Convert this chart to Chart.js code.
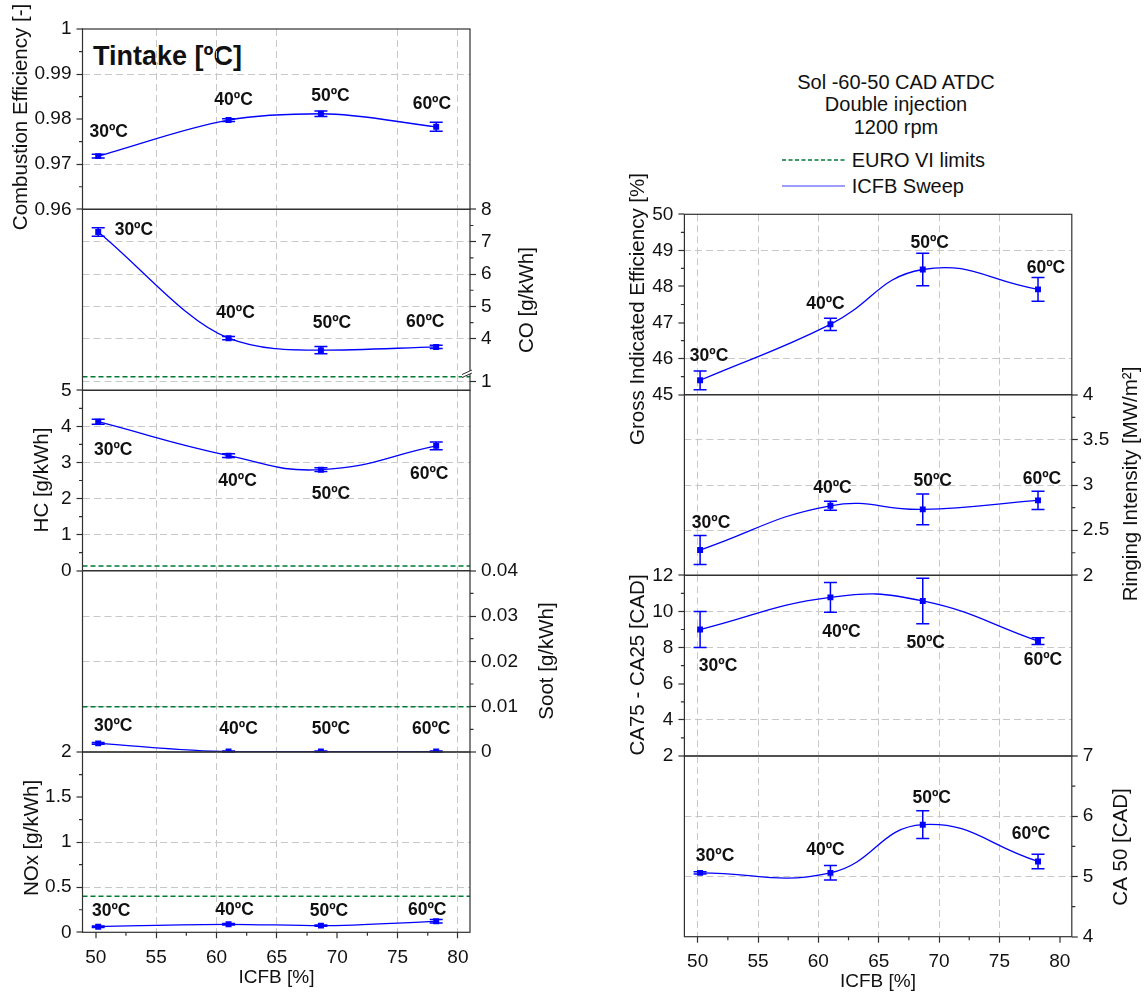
<!DOCTYPE html>
<html>
<head>
<meta charset="utf-8">
<script src="https://cdn.jsdelivr.net/npm/chart.js@4.4.1/dist/chart.umd.min.js"></script>
<style>
  html, body { margin: 0; padding: 0; background: #fff; }
  #page { position: relative; width: 1148px; height: 992px; overflow: hidden; background: #fff;
          font-family: 'Liberation Sans', Arial, Helvetica, sans-serif; color: #111; }
  #page canvas { position: absolute; left: 0; top: 0; }
  .txt { position: absolute; white-space: nowrap; }
</style>
</head>
<body>
<div id="page">
  <div class="txt" id="tintake" style="left:93px; top:42.9px; font-size:27px; line-height:27px; font-weight:bold;">Tintake [ºC]</div>
  <div class="txt" id="cond" style="left:746px; width:300px; top:70.7px; font-size:20px; line-height:22.5px; text-align:center;">Sol -60-50 CAD ATDC<br>Double injection<br>1200 rpm</div>
  <div class="txt" style="left:851.7px; top:149px; font-size:20px; line-height:22.5px;">EURO VI limits</div>
  <div class="txt" style="left:851.7px; top:175px; font-size:20px; line-height:22.5px;">ICFB Sweep</div>
</div>
<script>
// ---------------- data ----------------
const icfb = [50.2, 61.0, 68.65, 78.2];
const tempLabels = ['30ºC', '40ºC', '50ºC', '60ºC'];

const combEff    = [0.9718, 0.9798, 0.9812, 0.9783];
const combEffErr = [0.0004, 0.0003, 0.0006, 0.0010];
const co         = [7.30, 4.02, 3.65, 3.75];
const coErr      = [0.13, 0.05, 0.11, 0.05];
const hc         = [4.13, 3.19, 2.80, 3.46];
const hcErr      = [0.07, 0.05, 0.05, 0.11];
const soot       = [0.0019, 0.0001, 0.0001, 0.0001];
const sootErr    = [0.0002, 0.0001, 0.0001, 0.0001];
const nox        = [0.062, 0.089, 0.074, 0.122];
const noxErr     = [0.008, 0.008, 0.008, 0.02];

const gie        = [45.40, 46.95, 48.47, 47.92];
const gieErr     = [0.26, 0.17, 0.45, 0.33];
const ringing    = [2.28, 2.77, 2.73, 2.83];
const ringingErr = [0.16, 0.05, 0.17, 0.10];
const ca7525     = [9.00, 10.78, 10.58, 8.36];
const ca7525Err  = [1.00, 0.82, 1.26, 0.19];
const ca50       = [5.06, 5.06, 5.86, 5.25];
const ca50Err    = [0.02, 0.12, 0.23, 0.12];

// EURO VI limits
const coLimit = 1.5;
const hcLimit = 0.13;
const sootLimit = 0.01;
const noxLimit = 0.4;

// ---------------- ticks ----------------
const xTicks      = [50, 55, 60, 65, 70, 75, 80];
const xMinorTicks = [52.5, 57.5, 62.5, 67.5, 72.5, 77.5];
const ceTicks     = [0.96, 0.97, 0.98, 0.99, 1];
const ceMinor     = [0.965, 0.975, 0.985, 0.995];
const coTicks     = [4, 5, 6, 7, 8];
const coLowTicks  = [1];
const coMinor     = [4.5, 5.5, 6.5, 7.5];
const hcTicks     = [0, 1, 2, 3, 4, 5];
const hcMinor     = [0.5, 1.5, 2.5, 3.5, 4.5];
const sootTicks   = [0, 0.01, 0.02, 0.03, 0.04];
const sootMinor   = [0.005, 0.015, 0.025, 0.035];
const noxTicks    = [0, 0.5, 1, 1.5, 2];
const noxMinor    = [0.25, 0.75, 1.25, 1.75];
const gieTicks    = [45, 46, 47, 48, 49, 50];
const gieMinor    = [45.5, 46.5, 47.5, 48.5, 49.5];
const riTicks     = [2, 2.5, 3, 3.5, 4];
const riMinor     = [2.25, 2.75, 3.25, 3.75];
const caTicks     = [2, 4, 6, 8, 10, 12];
const caMinor     = [3, 5, 7, 9, 11];
const ca50Ticks   = [4, 5, 6, 7];
const ca50Minor   = [4.5, 5.5, 6.5];

// ---------------- styles / layout ----------------
const PAGE_W = 1148, PAGE_H = 992;
const FONT = "'Liberation Sans', Arial, Helvetica, sans-serif";
const BLUE = '#0000ff';
const GREEN = '#007a33';
const AXIS = '#303030';
const GRIDC = '#c8c8c8';
const TXT = '#111111';
const CAP = 6.5;
const TICK_FONT = 19;
const TITLE_FONT = 20.5;
const LABEL_FONT = 17.5;
const X_MIN = 48.9, X_MAX = 81;
const LEFT_COL  = { l: 82.5, r: 470 };
const RIGHT_COL = { l: 684.4, r: 1071.8 };
const xGridLeft  = [55, 60, 65, 75, 80];
const xGridRight = [50, 55, 60, 65, 70, 75];

// CO broken axis: upper part on main axis, lower part (limit + "1") on a hidden axis
const CO_MAIN = [2.41, 8];
const CO_LOW = [0.14, 18.24];
const coLowOnMain = v => CO_MAIN[0] + (v - CO_LOW[0]) / (CO_LOW[1] - CO_LOW[0]) * (CO_MAIN[1] - CO_MAIN[0]);

function fmt(v) { return String(parseFloat(Number(v).toFixed(4))); }

const panels = [
  { key: 'ce', col: LEFT_COL, top: 29, bottom: 209.3, side: 'left', min: 0.96, max: 1,
    ticks: ceTicks, minor: ceMinor, grid: [0.97, 0.99], xGrid: xGridLeft, curve: 'monotone',
    values: combEff, errors: combEffErr, title: 'Combustion Efficiency [-]', titleX: 27, titleY: 117,
    offsets: [[10.5, -25.6], [5, -21], [9.6, -19.3], [-4.3, -23.7]] },
  { key: 'co', col: LEFT_COL, top: 209.3, bottom: 390.3, side: 'right', min: CO_MAIN[0], max: CO_MAIN[1],
    ticks: coTicks.concat(coLowTicks.map(coLowOnMain)), minor: coMinor,
    grid: [4, 5, 6, 7].concat(coLowTicks.map(coLowOnMain)), xGrid: xGridLeft, curve: 'monotone',
    values: co, errors: coErr, title: 'CO [g/kWh]', titleX: 532.7, titleY: 300,
    limit: coLimit, limitAxis: 'yLow', breakAt: 2.99,
    tickLabel: v => { const i = coLowTicks.findIndex(t => Math.abs(coLowOnMain(t) - v) < 1e-6); return i >= 0 ? fmt(coLowTicks[i]) : fmt(v); },
    offsets: [[35.7, -3.7], [7, -26], [11, -28], [-11, -26]] },
  { key: 'hc', col: LEFT_COL, top: 390.3, bottom: 570.7, side: 'left', min: 0, max: 5,
    ticks: hcTicks, minor: hcMinor, grid: [1, 2, 3, 4], xGrid: xGridLeft, curve: 'default',
    values: hc, errors: hcErr, title: 'HC [g/kWh]', titleX: 48, titleY: 480, limit: hcLimit,
    offsets: [[15, 27], [9, 24], [10, 23], [-7, 27]] },
  { key: 'soot', col: LEFT_COL, top: 570.7, bottom: 752, side: 'right', min: 0, max: 0.04,
    ticks: sootTicks, minor: sootMinor, grid: [0.01, 0.02, 0.03], xGrid: xGridLeft, curve: 'monotone',
    values: soot, errors: sootErr, title: 'Soot [g/kWh]', titleX: 553, titleY: 661, limit: sootLimit,
    offsets: [[15, -19], [10, -24], [10, -24], [-5, -24]] },
  { key: 'nox', col: LEFT_COL, top: 752, bottom: 932.3, side: 'left', min: 0, max: 2,
    ticks: noxTicks, minor: noxMinor, grid: [0.5, 1], xGrid: xGridLeft, curve: 'monotone',
    values: nox, errors: noxErr, title: 'NOx [g/kWh]', titleX: 37.7, titleY: 838, limit: noxLimit,
    showX: true, xTitleX: 276.5, xTitleY: 983,
    offsets: [[13, -17], [6, -16], [8, -16], [-9, -13]] },

  { key: 'gie', col: RIGHT_COL, top: 214.3, bottom: 394.7, side: 'left', min: 45, max: 50,
    ticks: gieTicks, minor: gieMinor, grid: [46, 49], xGrid: xGridRight, curve: 'default',
    values: gie, errors: gieErr, title: 'Gross Indicated Efficiency [%]', titleX: 644, titleY: 309, legend: true,
    offsets: [[9, -26], [-5, -22], [7, -28], [8, -23]] },
  { key: 'ri', col: RIGHT_COL, top: 394.7, bottom: 575.3, side: 'right', min: 2, max: 4,
    ticks: riTicks, minor: riMinor, grid: [2.5, 3, 3.5], xGrid: xGridRight, curve: 'default',
    values: ringing, errors: ringingErr, title: 'Ringing Intensity [MW/m²]', titleX: 1136.5, titleY: 484,
    offsets: [[11, -28], [2, -19], [10, -30], [4, -23]] },
  { key: 'ca', col: RIGHT_COL, top: 575.3, bottom: 756, side: 'left', min: 2, max: 12,
    ticks: caTicks, minor: caMinor, grid: [4, 8, 10], xGrid: xGridRight, curve: 'default',
    values: ca7525, errors: ca7525Err, title: 'CA75 - CA25 [CAD]', titleX: 644, titleY: 665,
    offsets: [[18, 35], [11, 33], [3, 41], [5, 18]] },
  { key: 'ca50', col: RIGHT_COL, top: 756, bottom: 936.7, side: 'right', min: 4, max: 7,
    ticks: ca50Ticks, minor: ca50Minor, grid: [5, 6], xGrid: xGridRight, curve: 'default',
    values: ca50, errors: ca50Err, title: 'CA 50 [CAD]', titleX: 1126.5, titleY: 847,
    showX: true, xTitleX: 878, xTitleY: 987,
    offsets: [[15, -18], [-5, -24], [9, -28], [-7, -29]] }
];

function makeDecor(p) {
  return {
    id: 'decor_' + p.key,
    beforeDatasetsDraw(chart) {
      const ctx = chart.ctx, a = chart.chartArea, xs = chart.scales.x, ys = chart.scales.y;
      if (p.limit !== undefined) {
        const ls = chart.scales[p.limitAxis || 'y'];
        const py = ls.getPixelForValue(p.limit);
        ctx.save();
        ctx.strokeStyle = GREEN; ctx.lineWidth = 1.4; ctx.setLineDash([5, 3]);
        ctx.beginPath(); ctx.moveTo(a.left, py); ctx.lineTo(a.right, py); ctx.stroke();
        ctx.restore();
      }
      ctx.save();
      ctx.strokeStyle = BLUE; ctx.lineWidth = 1.5;
      icfb.forEach((xv, i) => {
        const px = xs.getPixelForValue(xv);
        const yLo = ys.getPixelForValue(p.values[i] - p.errors[i]);
        const yHi = ys.getPixelForValue(p.values[i] + p.errors[i]);
        ctx.beginPath();
        ctx.moveTo(px, yLo); ctx.lineTo(px, yHi);
        ctx.moveTo(px - CAP, yLo); ctx.lineTo(px + CAP, yLo);
        ctx.moveTo(px - CAP, yHi); ctx.lineTo(px + CAP, yHi);
        ctx.stroke();
      });
      ctx.restore();
    },
    afterDraw(chart) {
      const ctx = chart.ctx, a = chart.chartArea, xs = chart.scales.x, ys = chart.scales.y;
      ctx.save();
      // frame
      ctx.strokeStyle = AXIS; ctx.lineWidth = 1.2;
      ctx.strokeRect(a.left, a.top, a.right - a.left, a.bottom - a.top);
      // minor ticks
      ctx.beginPath();
      p.minor.forEach(v => {
        const py = ys.getPixelForValue(v);
        if (p.side === 'left') { ctx.moveTo(a.left - 3.5, py); ctx.lineTo(a.left, py); }
        else { ctx.moveTo(a.right, py); ctx.lineTo(a.right + 3.5, py); }
      });
      if (p.showX) {
        xMinorTicks.forEach(v => {
          const px = xs.getPixelForValue(v);
          ctx.moveTo(px, a.bottom); ctx.lineTo(px, a.bottom + 3.5);
        });
      }
      ctx.stroke();
      // axis break marks
      if (p.breakAt !== undefined) {
        const by = ys.getPixelForValue(p.breakAt);
        ctx.fillStyle = '#fff';
        ctx.beginPath();
        ctx.moveTo(a.right - 8, by + 3); ctx.lineTo(a.right + 2, by - 1.5);
        ctx.lineTo(a.right + 2, by + 1.5); ctx.lineTo(a.right - 8, by + 6); ctx.closePath();
        ctx.fill();
        ctx.strokeStyle = AXIS; ctx.lineWidth = 1;
        ctx.beginPath();
        ctx.moveTo(a.right - 8, by + 3); ctx.lineTo(a.right + 2, by - 1.5);
        ctx.moveTo(a.right - 8, by + 6); ctx.lineTo(a.right + 2, by + 1.5);
        ctx.stroke();
      }
      // temperature labels
      ctx.fillStyle = TXT;
      ctx.font = 'bold ' + LABEL_FONT + 'px ' + FONT;
      ctx.textAlign = 'center'; ctx.textBaseline = 'alphabetic';
      icfb.forEach((xv, i) => {
        const px = xs.getPixelForValue(xv) + p.offsets[i][0];
        const py = ys.getPixelForValue(p.values[i]) + p.offsets[i][1] + 0.358 * LABEL_FONT;
        ctx.fillText(tempLabels[i], px, py);
      });
      // x title
      if (p.showX) {
        ctx.font = '19px ' + FONT;
        ctx.fillText('ICFB [%]', p.xTitleX, p.xTitleY);
      }
      // legend sample lines
      if (p.legend) {
        ctx.lineWidth = 1.4; ctx.strokeStyle = GREEN; ctx.setLineDash([4, 2.5]);
        ctx.beginPath(); ctx.moveTo(782, 160); ctx.lineTo(845, 160); ctx.stroke();
        ctx.setLineDash([]); ctx.strokeStyle = '#3a3aff'; ctx.lineWidth = 1.2;
        ctx.beginPath(); ctx.moveTo(782, 186); ctx.lineTo(845, 186); ctx.stroke();
      }
      // y title
      ctx.font = TITLE_FONT + 'px ' + FONT;
      ctx.translate(p.titleX, p.titleY);
      ctx.rotate(-Math.PI / 2);
      ctx.fillText(p.title, 0, 0);
      ctx.restore();
    }
  };
}

function buildChart(p) {
  const cv = document.createElement('canvas');
  cv.width = PAGE_W; cv.height = PAGE_H;
  cv.style.width = PAGE_W + 'px'; cv.style.height = PAGE_H + 'px';
  document.getElementById('page').appendChild(cv);

  const axisW = 70;
  const xH = p.showX ? 45 : 0;
  const col = p.col;
  const pad = {
    left: p.side === 'left' ? col.l - axisW : col.l,
    right: p.side === 'right' ? PAGE_W - col.r - axisW : PAGE_W - col.r,
    top: p.top,
    bottom: PAGE_H - p.bottom - xH
  };
  const isGrid = (list, v) => list.some(g => Math.abs(g - v) < 1e-9);

  const scales = {
    x: {
      type: 'linear', min: X_MIN, max: X_MAX,
      afterBuildTicks: s => { s.ticks = xTicks.map(v => ({ value: v })); },
      afterFit: s => { s.height = xH; },
      ticks: { display: !!p.showX, font: { family: FONT, size: TICK_FONT }, color: TXT, padding: 8,
               maxRotation: 0, autoSkip: false, callback: v => fmt(v) },
      grid: { display: true, drawOnChartArea: true, drawTicks: !!p.showX, tickLength: 6,
              tickColor: AXIS, tickWidth: 1.2, color: GRIDC,
              lineWidth: c => (c.tick && isGrid(p.xGrid, c.tick.value)) ? 1 : 0 },
      border: { display: false, dash: [7, 4] }
    },
    y: {
      type: 'linear', position: p.side, min: p.min, max: p.max,
      afterBuildTicks: s => { s.ticks = p.ticks.map(v => ({ value: v })); },
      afterFit: s => { s.width = axisW; },
      ticks: { font: { family: FONT, size: TICK_FONT }, color: TXT, padding: 5, autoSkip: false,
               callback: p.tickLabel || (v => fmt(v)) },
      grid: { display: true, drawOnChartArea: true, drawTicks: true, tickLength: 6,
              tickColor: AXIS, tickWidth: 1.2, color: GRIDC,
              lineWidth: c => (c.tick && isGrid(p.grid, c.tick.value)) ? 1 : 0 },
      border: { display: false, dash: [7, 4] }
    }
  };
  if (p.limitAxis === 'yLow') {
    scales.yLow = { type: 'linear', display: false, min: CO_LOW[0], max: CO_LOW[1] };
  }

  return new Chart(cv, {
    type: 'line',
    data: {
      datasets: [{
        label: 'ICFB Sweep',
        data: icfb.map((x, i) => ({ x: x, y: p.values[i] })),
        borderColor: BLUE, borderWidth: 1.3,
        backgroundColor: BLUE,
        pointStyle: 'rect', pointRadius: 4.2, pointBackgroundColor: BLUE, pointBorderWidth: 0,
        tension: 0.45, fill: false,
        cubicInterpolationMode: p.curve
      }]
    },
    options: {
      responsive: false, animation: false, devicePixelRatio: 1, events: [],
      layout: { padding: pad },
      scales: scales,
      plugins: { legend: { display: false }, tooltip: { enabled: false }, title: { display: false } }
    },
    plugins: [makeDecor(p)]
  });
}

panels.forEach(buildChart);
</script>
</body>
</html>
